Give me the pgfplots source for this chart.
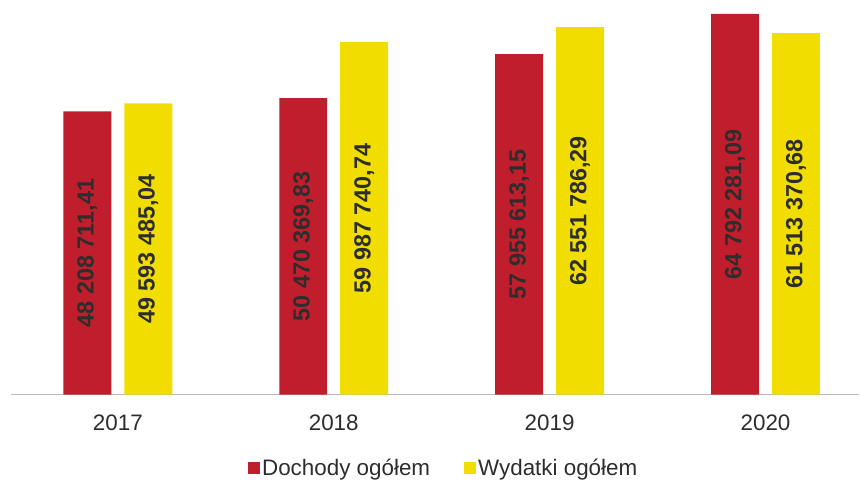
\documentclass[border=0pt]{standalone}
\usepackage{fontspec}
\setmainfont{Liberation Sans}
\usepackage{pgfplots}
\usepackage{pgfplotstable}
\pgfplotsset{compat=1.18}
\definecolor{dred}{RGB}{192,30,45}
\definecolor{dyel}{RGB}{241,222,0}
\definecolor{txt}{RGB}{45,45,45}
\pgfplotstableread[col sep=semicolon]{
x;d;dl;w;wl
0;48.20871141;{48 208 711,41};49.59348504;{49 593 485,04}
1;50.47036983;{50 470 369,83};59.98774074;{59 987 740,74}
2;57.95561315;{57 955 613,15};62.55178629;{62 551 786,29}
3;64.79228109;{64 792 281,09};61.51337068;{61 513 370,68}
}\datatable
\begin{document}
\begin{tikzpicture}
\path (0,-91bp) rectangle (860bp,395bp);
\begin{axis}[
  at={(11bp,0bp)}, anchor=south west,
  scale only axis, width=849bp, height=395bp,
  xmin=-0.495, xmax=3.435, ymin=0, ymax=67.17,
  axis x line=bottom, axis y line=none,
  x axis line style={-, draw=gray!55, line width=1.2pt},
  ytick=\empty,
  xtick={0,1,2,3}, xticklabels={2017,2018,2019,2020},
  major tick length=0pt,
  xticklabel style={font=\fontsize{22.5}{22.5}\selectfont, text=txt, inner sep=0pt, anchor=north, yshift=-20bp},
  ybar, bar width=48bp,
  point meta=explicit symbolic,
  nodes near coords,
  visualization depends on=rawy \as \rawy,
  every node near coord/.append style={shift={(axis direction cs:0,-\rawy/2)}, rotate=90, anchor=center,
     font=\fontsize{23.5}{23.5}\selectfont\bfseries, text=txt},
  legend columns=2,
  legend style={draw=none, fill=none, at={(rel axis cs:0.5,0)}, anchor=center, yshift=-73bp, xshift=8.5bp,
     font=\fontsize{22.5}{22.5}\selectfont, text=txt,
     /tikz/every even column/.append style={column sep=32bp},
     nodes={inner xsep=2bp, inner ysep=0pt}},
  legend image code/.code={\fill[#1] (0bp,-6bp) rectangle (12bp,6bp);},
  clip=false,
]
\addplot[fill=dred, draw=none, bar shift=-30.5bp] table[x=x, y=d, meta=dl] {\datatable};
\addlegendentry{Dochody ogółem}
\addplot[fill=dyel, draw=none, bar shift=30.5bp] table[x=x, y=w, meta=wl] {\datatable};
\addlegendentry{Wydatki ogółem}
\end{axis}
\end{tikzpicture}
\end{document}
